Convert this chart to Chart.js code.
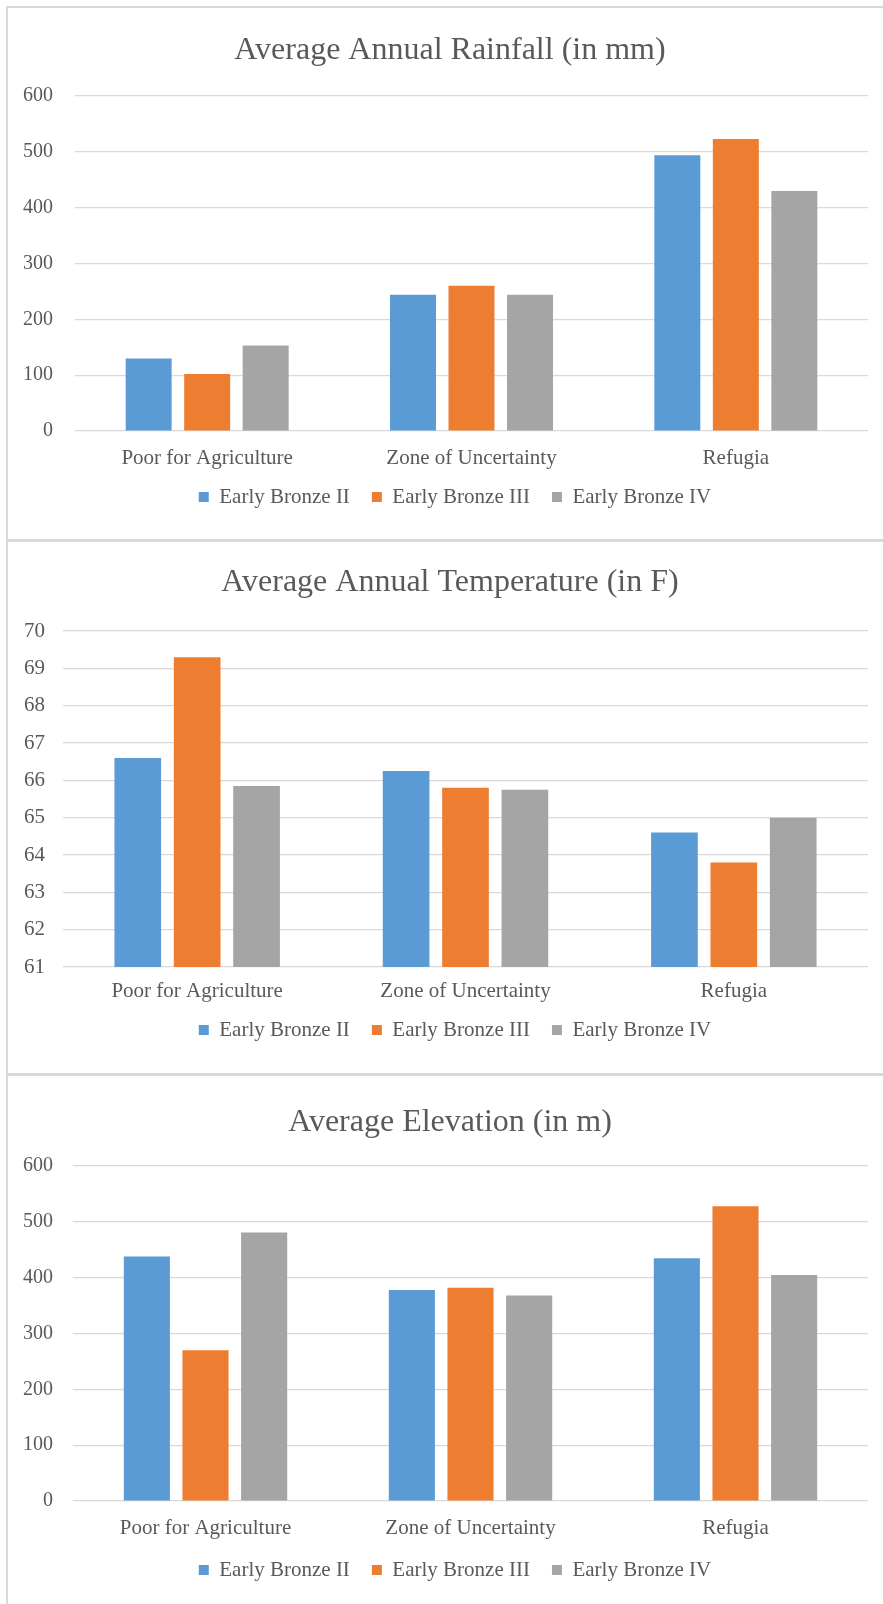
<!DOCTYPE html>
<html>
<head>
<meta charset="utf-8">
<script src="https://cdn.jsdelivr.net/npm/chart.js@4.4.1/dist/chart.umd.min.js"></script>
<style>
  html, body { margin: 0; padding: 0; background: #ffffff; }
  body { width: 883px; height: 1604px; position: relative; overflow: hidden; }
  .rule { position: absolute; background: #d9d9d9; }
  canvas { position: absolute; left: 8px; }
</style>
</head>
<body>
<div class="rule" style="left:6px; top:6px; width:877px; height:2px;"></div>
<div class="rule" style="left:6px; top:6px; width:2px; height:1598px;"></div>
<div class="rule" style="left:6px; top:539px; width:877px; height:3px;"></div>
<div class="rule" style="left:6px; top:1073px; width:877px; height:3px;"></div>

<canvas id="rain" width="875" height="531" style="top:8px;"></canvas>
<canvas id="temp" width="875" height="531" style="top:542px;"></canvas>
<canvas id="elev" width="875" height="540" style="top:1076px;"></canvas>

<script>
// Zones and periods shared by all three panels
const zones = ['Poor for Agriculture', 'Zone of Uncertainty', 'Refugia'];
const periods = ['Early Bronze II', 'Early Bronze III', 'Early Bronze IV'];
const periodColors = ['#5b9bd5', '#ed7d31', '#a5a5a5'];

// Average annual rainfall (mm), one array per period
const rainEB2 = [130, 244, 494];
const rainEB3 = [102, 260, 523];
const rainEB4 = [153, 244, 430];

// Average annual temperature (F)
const tempEB2 = [66.6, 66.25, 64.6];
const tempEB3 = [69.3, 65.8, 63.8];
const tempEB4 = [65.85, 65.75, 65.0];

// Average elevation (m)
const elevEB2 = [438, 378, 435];
const elevEB3 = [270, 382, 528];
const elevEB4 = [481, 368, 405];

// Axis ranges and tick steps
const rainAxis = { min: 0, max: 600, step: 100 };
const tempAxis = { min: 61, max: 70, step: 1 };
const elevAxis = { min: 0, max: 600, step: 100 };

const FONT = "'Liberation Serif', 'Times New Roman', serif";
const INK = '#595959';
const GRID = '#d9d9d9';

// Slides the title and legend boxes after layout so they sit closer
// to the plot than the default box stacking allows.
const nudge = {
  id: 'nudge',
  afterLayout(chart, args, opts) {
    const t = chart.titleBlock;
    const l = chart.legend;
    if (t) { t.left += opts.titleDx; t.right += opts.titleDx; }
    if (l) {
      l.left += opts.legendDx; l.right += opts.legendDx;
      l.top -= opts.legendLift; l.bottom -= opts.legendLift;
    }
  }
};

function drawPanel(id, title, series, axis, geo) {
  const datasets = series.map((values, i) => ({
    label: periods[i],
    data: values,
    backgroundColor: periodColors[i],
    borderWidth: 0,
    categoryPercentage: 0.664,
    barPercentage: 0.786
  }));

  return new Chart(document.getElementById(id), {
    type: 'bar',
    data: { labels: zones, datasets },
    plugins: [nudge],
    options: {
      responsive: false,
      animation: false,
      devicePixelRatio: 1,
      layout: { padding: { left: 0, right: 15, top: 0, bottom: geo.padBottom } },
      plugins: {
        nudge: { titleDx: 12, legendDx: 17, legendLift: geo.legendLift },
        title: {
          display: true,
          text: title,
          color: INK,
          font: { family: FONT, size: 32, weight: 'normal', lineHeight: 1.2 },
          padding: { top: geo.titleTop, bottom: geo.titleBottom }
        },
        legend: {
          position: 'bottom',
          labels: {
            boxWidth: 10,
            boxHeight: 10,
            padding: 22,
            color: INK,
            font: { family: FONT, size: 21, lineHeight: 1.2 }
          }
        },
        tooltip: { enabled: false }
      },
      scales: {
        x: {
          grid: { display: false, drawTicks: false },
          border: { display: false },
          ticks: {
            color: INK,
            padding: geo.xPad,
            font: { family: FONT, size: 21, lineHeight: 1.2 }
          }
        },
        y: {
          min: axis.min,
          max: axis.max,
          grid: { color: GRID, lineWidth: 1.2, drawTicks: false },
          border: { display: false },
          ticks: {
            stepSize: axis.step,
            color: INK,
            padding: geo.yPad,
            font: { family: FONT, size: geo.ySize, lineHeight: 1.2 }
          },
          afterFit: (s) => { s.width = geo.yWidth; }
        }
      }
    }
  });
}

drawPanel('rain', 'Average Annual Rainfall (in mm)',
  [rainEB2, rainEB3, rainEB4], rainAxis,
  { titleTop: 23.8, titleBottom: 25.8, xPad: 14.4, padBottom: 1, legendLift: 20.5,
    yWidth: 67, yPad: 22, ySize: 20 });

drawPanel('temp', 'Average Annual Temperature (in F)',
  [tempEB2, tempEB3, tempEB4], tempAxis,
  { titleTop: 21.8, titleBottom: 28.8, xPad: 11.9, padBottom: 4, legendLift: 18.5,
    yWidth: 55, yPad: 18, ySize: 21 });

drawPanel('elev', 'Average Elevation (in m)',
  [elevEB2, elevEB3, elevEB4], elevAxis,
  { titleTop: 27.8, titleBottom: 23.8, xPad: 14.4, padBottom: 8, legendLift: 17.5,
    yWidth: 65, yPad: 20, ySize: 20 });
</script>
</body>
</html>
